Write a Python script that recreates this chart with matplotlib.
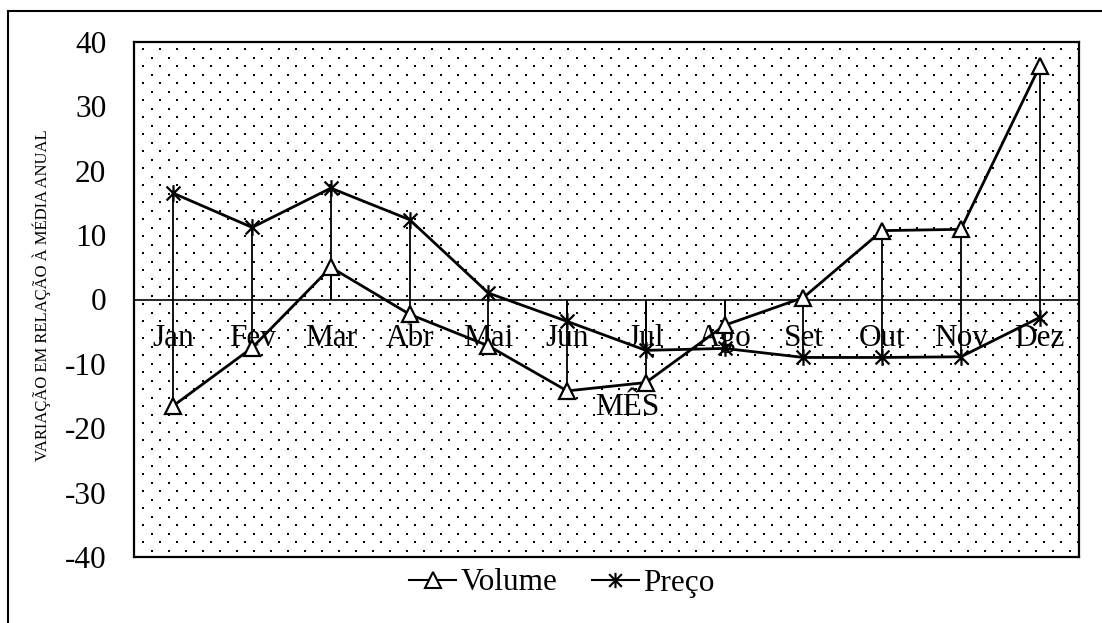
import matplotlib.pyplot as plt
import numpy as np
from matplotlib.path import Path
from matplotlib.patches import Rectangle
from matplotlib.lines import Line2D

plt.rcParams['font.family'] = ['Liberation Serif', 'DejaVu Serif']

# dados
meses = ['Jan', 'Fev', 'Mar', 'Abr', 'Mai', 'Jun', 'Jul', 'Ago', 'Set', 'Out', 'Nov', 'Dez']
volume = [-16.5, -7.5, 5.0, -2.3, -7.2, -14.2, -12.9, -4.0, 0.3, 10.7, 10.9, 36.2]
preco = [16.5, 11.2, 17.3, 12.4, 1.0, -3.4, -7.9, -7.6, -9.0, -9.0, -8.9, -2.8]
yticks = [-40, -30, -20, -10, 0, 10, 20, 30, 40]

FS = 22.5

# marcador estrela (x com barra vertical)
estrela = Path([(-1, -1), (1, 1), (-1, 1), (1, -1), (0, -1.2), (0, 1.2)],
               [Path.MOVETO, Path.LINETO, Path.MOVETO, Path.LINETO, Path.MOVETO, Path.LINETO])

fig = plt.figure(figsize=(11.02, 6.23), dpi=100)
ax = fig.add_axes([134 / 1102, 1 - 557 / 623, 945 / 1102, 515 / 623])

# moldura externa
fig.patches.append(Rectangle((8 / 1102, -0.2), 1.2, 1.2 - 10.5 / 623,
                             transform=fig.transFigure, fill=False, lw=1.5,
                             ec='black', zorder=0))

# padrão pontilhado de fundo
dx, dy = 17 / 945, 17 / 515
gx = np.arange(9.3 / 945, 1, dx)
gy = np.arange(1 - 7.3 / 515, 0, -dy)
X, Y = np.meshgrid(gx, gy)
ax.scatter(X.ravel(), Y.ravel(), s=3.2, marker='s', c='black', lw=0,
           transform=ax.transAxes, zorder=0)
gx2 = gx + dx / 2
gy2 = gy - dy / 2
X2, Y2 = np.meshgrid(gx2[gx2 < 1], gy2[gy2 > 0])
ax.scatter(X2.ravel(), Y2.ravel(), s=1.3, marker='s', c='black', lw=0,
           transform=ax.transAxes, zorder=0)

x = np.arange(len(meses))

# linhas de queda até o eixo
ax.vlines(x, 0, volume, color='black', lw=1.3, zorder=2)
ax.vlines(x, 0, preco, color='black', lw=1.3, zorder=2)
ax.axhline(0, color='black', lw=1.2, zorder=2)

ax.plot(x, volume, color='black', lw=2, marker='^', ms=12, mfc='white',
        mec='black', mew=1.6, zorder=4, label='Volume')
ax.plot(x, preco, color='black', lw=2, marker=estrela, ms=12, mew=1.6,
        zorder=4, label='Preço')

for i, m in enumerate(meses):
    ax.text(i, -6.1, m, ha='center', va='center', fontsize=FS, zorder=3)
ax.text(0.522, -16.8, 'MÊS', transform=ax.get_yaxis_transform(),
        ha='center', va='center', fontsize=FS, zorder=3)

ax.set_xlim(-0.5, 11.5)
ax.set_ylim(-40, 40)
ax.set_yticks(yticks)
ax.set_yticklabels([str(v) for v in yticks], fontsize=FS)
ax.set_xticks([])
ax.tick_params(axis='y', length=0, pad=20)
for s in ax.spines.values():
    s.set_linewidth(1.6)

fig.text(42 / 1102, 1 - 295 / 623, 'VARIAÇÃO EM RELAÇÃO À MÉDIA ANUAL',
         rotation=90, ha='center', va='center', fontsize=12)

hv = Line2D([], [], color='black', lw=1.5, marker='^', ms=11, mfc='white', mew=1.5)
hp = Line2D([], [], color='black', lw=1.5, marker=estrela, ms=11, mew=1.5)
fig.legend([hv, hp], ['Volume', 'Preço'], loc='center', ncol=2,
           bbox_to_anchor=(562 / 1102, 1 - 583 / 623), frameon=False,
           fontsize=FS, handlelength=1.5, handletextpad=0.15, columnspacing=1.1)

fig.savefig('out.png', dpi=100)
plt.close(fig)
